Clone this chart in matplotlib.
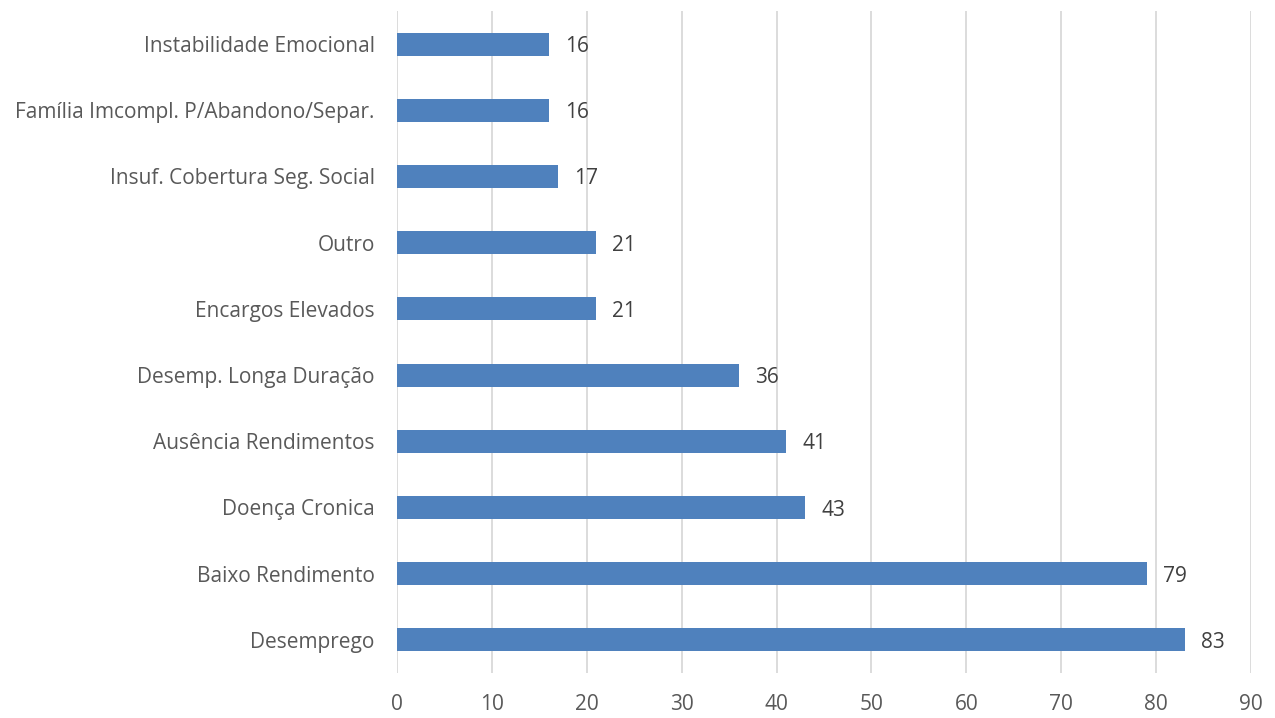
import matplotlib.pyplot as plt

categories = ["Desemprego", "Baixo Rendimento", "Doença Cronica", "Ausência Rendimentos",
              "Desemp. Longa Duração", "Encargos Elevados", "Outro",
              "Insuf. Cobertura Seg. Social", "Família Imcompl. P/Abandono/Separ.",
              "Instabilidade Emocional"]
values = [83, 79, 43, 41, 36, 21, 21, 17, 16, 16]
xticks = list(range(0, 100, 10))

plt.rcParams['font.family'] = ['Open Sans', 'DejaVu Sans']

fig = plt.figure(figsize=(12.75, 7.18), dpi=100)
W, H = 1275, 718
ax = fig.add_axes([397 / W, 1 - 673 / H, (1251 - 397) / W, (673 - 11) / H])

ypos = range(len(categories))
ax.barh(ypos, values, height=0.35, color='#4f81bd', zorder=3)
for y, v in zip(ypos, values):
    ax.text(v + 1.7, y, str(v), va='center_baseline', ha='left', fontsize=15, color='#404040')

ax.set_xlim(0, 90)
ax.set_ylim(-0.5, len(categories) - 0.5)
ax.set_xticks(xticks)
ax.set_yticks(list(ypos))
ax.set_yticklabels(categories)
ax.tick_params(axis='both', length=0, labelsize=15, labelcolor='#595959')
ax.tick_params(axis='x', pad=15)
ax.tick_params(axis='y', pad=16)
ax.grid(axis='x', color='#d9d9d9', linewidth=1.3, zorder=0)
for s in ax.spines.values():
    s.set_visible(False)

fig.savefig('out.png', dpi=100)
